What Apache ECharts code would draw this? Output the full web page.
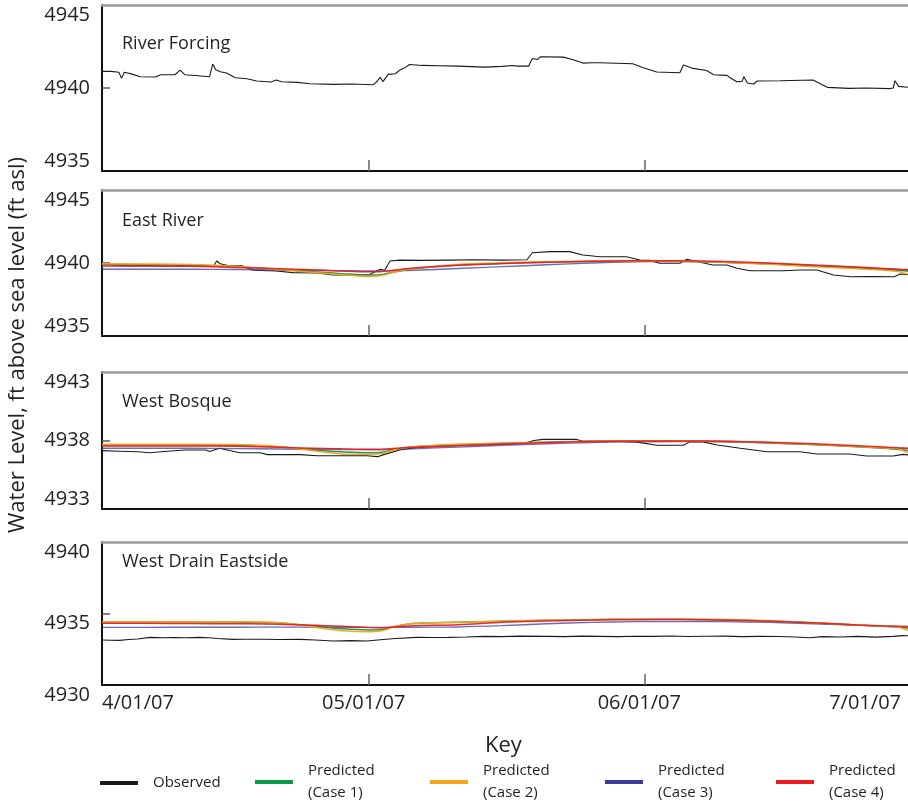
<!DOCTYPE html>
<html><head><meta charset="utf-8">
<script src="https://cdn.jsdelivr.net/npm/echarts@6/dist/echarts.min.js"></script>
<style>html,body{margin:0;padding:0;background:#fff}#c{width:908px;height:807px}</style>
</head><body><div id="c"></div>
<script>
// ---------- DATA ----------
// x values are days since 4/01/07
const xTickDays = [0, 30, 61, 91];
const xTickLabels = ['4/01/07', '05/01/07', '06/01/07', '7/01/07'];

const seriesNames = ['Observed', 'Predicted\n(Case 1)', 'Predicted\n(Case 2)', 'Predicted\n(Case 3)', 'Predicted\n(Case 4)'];
const panelTitles = ['River Forcing', 'East River', 'West Bosque', 'West Drain Eastside'];
const yTicks1 = [4935, 4940, 4945];
const yTicks2 = [4935, 4940, 4945];
const yTicks3 = [4933, 4938, 4943];
const yTicks4 = [4930, 4935, 4940];

// Panel 1: River Forcing (observed only)
const riverDays = [0,1.0,1.9,2.2,2.5,3.3,4.3,6.0,6.6,8.2,8.8,9.3,10.5,12.1,12.45,12.8,13.3,14.0,15.0,16.3,17.4,19.0,19.6,20.2,22.0,23.4,26,28,30.5,30.8,31.3,31.6,32.2,33.0,33.5,34.0,34.6,36,38,40,43,45,46.2,46.4,46.7,48.0,48.4,49.0,49.3,51.9,53.0,54.1,55.2,56,59.7,60.9,62.4,65.0,65.4,66.5,68.0,68.8,70.3,70.7,71.4,72.0,72.2,72.6,73.3,73.7,76.3,76.5,80,81.0,81.6,84,86,88.6,89.0,89.2,89.6,90.7,91];
const riverObs = [4941.0,4941.0,4940.95,4940.58,4940.95,4940.85,4940.68,4940.66,4940.8,4940.8,4941.08,4940.8,4940.75,4940.68,4941.44,4941.1,4940.98,4940.9,4940.62,4940.56,4940.42,4940.36,4940.48,4940.38,4940.34,4940.26,4940.22,4940.24,4940.2,4940.32,4940.64,4940.38,4940.82,4940.86,4941.08,4941.2,4941.42,4941.36,4941.34,4941.32,4941.26,4941.3,4941.36,4941.46,4941.32,4941.32,4941.78,4941.72,4941.88,4941.86,4941.7,4941.5,4941.52,4941.52,4941.46,4941.22,4940.96,4940.92,4941.38,4941.18,4941.05,4940.8,4940.76,4940.6,4940.38,4940.4,4940.68,4940.3,4940.24,4940.42,4940.44,4940.5,4940.48,4940.2,4940.04,4939.98,4940.0,4939.96,4940.0,4940.44,4940.1,4940.04,4940.04];

// Shared day grid for predicted curves
const predDays = [0,5,10,15,20,25,27,30,31.5,33,35,40,45,50,55,60,65,70,75,80,85,88,89.5,91];

// Panel 2: East River
const eastDays = [0,1.5,3,5,7,9,11,12.6,12.9,13.3,14.4,15.8,17,19.6,21.5,24.2,26,30.0,31.3,31.8,32.4,33.5,36,39,42,45,47.8,48.4,50.4,52.6,54.1,56,59,60.5,61.6,62.7,65,65.8,66.9,68.7,70.3,71.4,72.9,76.6,78.5,80.4,82.3,84.2,86.5,89.1,89.8,90.7];
const eastObs = [4939.93,4939.85,4939.8,4939.84,4939.78,4939.82,4939.8,4939.85,4940.14,4939.95,4939.8,4939.8,4939.5,4939.45,4939.34,4939.32,4939.18,4939.18,4939.57,4939.5,4940.14,4940.2,4940.18,4940.2,4940.22,4940.2,4940.22,4940.7,4940.78,4940.78,4940.55,4940.43,4940.43,4940.2,4940.18,4939.98,4939.98,4940.25,4940.1,4939.86,4939.86,4939.64,4939.47,4939.47,4939.52,4939.52,4939.18,4939.06,4939.08,4939.06,4939.25,4939.2];
const eastCase1 = [4939.90,4939.88,4939.85,4939.75,4939.55,4939.35,4939.27,4939.18,4939.22,4939.40,4939.60,4939.85,4939.97,4940.05,4940.10,4940.12,4940.12,4940.05,4939.95,4939.80,4939.65,4939.55,4939.50,4939.42];
const eastCase2 = [4939.95,4939.93,4939.90,4939.78,4939.55,4939.30,4939.20,4939.08,4939.15,4939.40,4939.62,4939.90,4940.00,4940.08,4940.12,4940.14,4940.12,4940.05,4939.92,4939.75,4939.60,4939.50,4939.42,4939.18];
const eastCase3 = [4939.57,4939.57,4939.57,4939.55,4939.52,4939.49,4939.47,4939.45,4939.45,4939.47,4939.50,4939.62,4939.75,4939.88,4940.00,4940.08,4940.10,4940.05,4939.95,4939.82,4939.68,4939.60,4939.55,4939.50];
const eastCase4 = [4939.80,4939.80,4939.78,4939.70,4939.60,4939.50,4939.45,4939.40,4939.42,4939.52,4939.65,4939.85,4939.97,4940.05,4940.12,4940.15,4940.15,4940.10,4940.00,4939.87,4939.72,4939.63,4939.58,4939.55];

// Panel 3: West Bosque
const boDays = [0,2,4,5.4,7,9.3,11.7,12.1,13.2,15.5,17.8,18.6,22.3,24.2,29.8,31,31.6,33.5,35.4,39,41,44,47.5,48.6,49.6,53.4,54.1,57.9,60.2,62.4,65.4,66.1,67.6,69.2,71.8,74.8,78.5,80.4,84.1,86,89,90.1,90.7];
const boObs = [4937.26,4937.22,4937.18,4937.11,4937.2,4937.31,4937.31,4937.2,4937.43,4937.11,4937.11,4936.97,4936.97,4936.89,4936.89,4936.82,4936.95,4937.31,4937.5,4937.6,4937.68,4937.7,4937.8,4938.0,4938.08,4938.08,4937.95,4937.95,4937.88,4937.65,4937.65,4937.9,4937.9,4937.67,4937.43,4937.18,4937.18,4937.01,4937.01,4936.87,4936.87,4936.99,4936.95];
const boCase1 = [4937.68,4937.68,4937.68,4937.65,4937.52,4937.25,4937.17,4937.11,4937.15,4937.35,4937.52,4937.70,4937.80,4937.88,4937.94,4937.97,4937.97,4937.93,4937.83,4937.70,4937.55,4937.43,4937.35,4937.25];
const boCase2 = [4937.72,4937.72,4937.72,4937.70,4937.55,4937.15,4937.02,4936.99,4937.05,4937.35,4937.55,4937.72,4937.80,4937.88,4937.95,4937.98,4937.98,4937.95,4937.85,4937.72,4937.55,4937.45,4937.40,4936.97];
const boCase3 = [4937.43,4937.43,4937.43,4937.41,4937.38,4937.35,4937.34,4937.33,4937.33,4937.36,4937.40,4937.52,4937.65,4937.76,4937.85,4937.90,4937.92,4937.90,4937.82,4937.70,4937.55,4937.47,4937.43,4937.40];
const boCase4 = [4937.60,4937.60,4937.60,4937.58,4937.50,4937.42,4937.39,4937.36,4937.37,4937.43,4937.50,4937.62,4937.75,4937.85,4937.92,4937.96,4937.97,4937.95,4937.87,4937.76,4937.62,4937.52,4937.47,4937.43];

// Panel 4: West Drain Eastside
const wdDays = [0,1,2,3,4,5.4,7,8,9.5,11,12,13,14.7,16,18,20,22.3,24,26,28,29.8,31.3,33,35.4,37,39,41,43,45,47,50,52,54,56,58,60,62,64,66,68,70,72,74,76,78,79.6,81,83,85,87,89,90,91];
const wdObs = [4933.15,4933.13,4933.12,4933.18,4933.22,4933.33,4933.3,4933.32,4933.3,4933.33,4933.3,4933.25,4933.19,4933.2,4933.2,4933.18,4933.19,4933.15,4933.08,4933.1,4933.08,4933.16,4933.25,4933.33,4933.32,4933.33,4933.36,4933.4,4933.38,4933.42,4933.4,4933.38,4933.42,4933.4,4933.38,4933.41,4933.4,4933.43,4933.39,4933.41,4933.42,4933.38,4933.4,4933.39,4933.36,4933.3,4933.38,4933.36,4933.4,4933.35,4933.4,4933.45,4933.44];
const wdCase1 = [4934.43,4934.43,4934.42,4934.40,4934.33,4934.05,4933.93,4933.85,4933.88,4934.10,4934.30,4934.38,4934.45,4934.52,4934.57,4934.60,4934.59,4934.55,4934.47,4934.33,4934.20,4934.10,4934.05,4933.95];
const wdCase2 = [4934.43,4934.43,4934.43,4934.42,4934.35,4933.95,4933.80,4933.73,4933.80,4934.10,4934.30,4934.38,4934.45,4934.52,4934.57,4934.60,4934.60,4934.58,4934.50,4934.35,4934.20,4934.10,4934.05,4933.73];
const wdCase3 = [4934.03,4934.03,4934.04,4934.04,4934.05,4934.04,4934.04,4934.03,4934.03,4934.03,4934.04,4934.06,4934.15,4934.28,4934.38,4934.43,4934.45,4934.43,4934.38,4934.28,4934.18,4934.12,4934.10,4934.08];
const wdCase4 = [4934.31,4934.31,4934.30,4934.28,4934.25,4934.15,4934.10,4934.02,4934.00,4934.08,4934.15,4934.22,4934.38,4934.48,4934.54,4934.57,4934.58,4934.55,4934.47,4934.35,4934.20,4934.13,4934.10,4934.08];

// ---------- STYLE / LAYOUT ----------
const FONT = '"Open Sans", "Noto Sans", sans-serif';
const TXT = '#231f20';
const colors = ['#1a1a1a', '#0a9a4a', '#f7a21b', '#3a3d9c', '#ed1c24'];
const widths = [1.1, 1.5, 1.5, 1.4, 1.5];

const panels = [
  {top: 5,   height: 166, ticks: yTicks1, va: ['bottom', 'middle', 'top'], obsDays: riverDays, obs: riverObs, preds: null},
  {top: 190, height: 146, ticks: yTicks2, va: ['bottom', 'middle', 'top'], obsDays: eastDays, obs: eastObs, preds: [eastCase1, eastCase2, eastCase3, eastCase4]},
  {top: 372, height: 137, ticks: yTicks3, va: ['bottom', 'middle', 'top'], obsDays: boDays, obs: boObs, preds: [boCase1, boCase2, boCase3, boCase4]},
  {top: 542, height: 143, ticks: yTicks4, va: ['top', 'top', 'top'], obsDays: wdDays, obs: wdObs, preds: [wdCase1, wdCase2, wdCase3, wdCase4]}
];

function zip(xs, ys) { const n = Math.min(xs.length, ys.length); const out = []; for (let i = 0; i < n; i++) out.push([xs[i], ys[i]]); return out; }

const grid = [], xAxis = [], yAxis = [], series = [], title = [];
const predOrder = [3, 1, 2, 4]; // draw order: case3, case1, case2, case4 (red on top)

panels.forEach((p, i) => {
  grid.push({left: 102, top: p.top, width: 809, height: p.height, outerBoundsMode: 'none', containLabel: false});
  const last = i === panels.length - 1;
  xAxis.push({
    gridIndex: i, type: 'value', min: xTickDays[0], max: xTickDays[xTickDays.length - 1],
    axisLine: {show: true, onZero: false, lineStyle: {color: '#111', width: 2}},
    axisTick: {show: true, inside: true, length: 11, customValues: [xTickDays[1], xTickDays[2]], lineStyle: {color: '#666', width: 1.5}},
    axisLabel: last ? {
      show: true, customValues: xTickDays, margin: 8, fontSize: 20, fontFamily: FONT, color: TXT,
      padding: [0, 10, 0, 0], alignMinLabel: 'left', alignMaxLabel: 'right',
      formatter: v => { const k = xTickDays.indexOf(v); return k >= 0 ? xTickLabels[k] : ''; }
    } : {show: false},
    splitLine: {show: false}
  });
  xAxis.push({
    gridIndex: i, type: 'value', position: 'top', min: xTickDays[0], max: xTickDays[xTickDays.length - 1],
    axisLine: {show: true, onZero: false, lineStyle: {color: '#9a9a9a', width: 2.5}},
    axisTick: {show: false}, axisLabel: {show: false}, splitLine: {show: false}
  });
  yAxis.push({
    gridIndex: i, type: 'value', min: p.ticks[0], max: p.ticks[2],
    axisLine: {show: true, onZero: false, lineStyle: {color: '#111', width: 2}},
    axisTick: {show: true, inside: true, length: 8, customValues: [p.ticks[1]], lineStyle: {color: '#555', width: 1.5}},
    axisLabel: {
      show: true, customValues: p.ticks, margin: 12, fontSize: 20, fontFamily: FONT, color: TXT,
      verticalAlign: p.va[1], verticalAlignMinLabel: p.va[0], verticalAlignMaxLabel: p.va[2],
      formatter: v => String(v)
    },
    splitLine: {show: false}
  });
  series.push({
    name: seriesNames[0], type: 'line', xAxisIndex: 2 * i, yAxisIndex: i, data: zip(p.obsDays, p.obs),
    showSymbol: false, symbol: 'none', lineStyle: {color: colors[0], width: widths[0]}, itemStyle: {color: colors[0]}, z: 2
  });
  if (p.preds) {
    predOrder.forEach((c, k) => {
      series.push({
        name: seriesNames[c], type: 'line', xAxisIndex: 2 * i, yAxisIndex: i, data: zip(predDays, p.preds[c - 1]),
        showSymbol: false, symbol: 'none', smooth: 0.3,
        lineStyle: {color: colors[c], width: widths[c], opacity: c === 3 ? 0.75 : 0.95}, itemStyle: {color: colors[c]}, z: 3 + k
      });
    });
  }
});

const titleTops = [30, 207, 388, 548];
panelTitles.forEach((t, i) => {
  title.push({text: t, left: 117, top: titleTops[i], textStyle: {fontSize: 18, fontWeight: 'normal', fontFamily: FONT, color: TXT}});
});
title.push({text: 'Key', left: 480, top: 730, textStyle: {fontSize: 22, fontWeight: 'normal', fontFamily: FONT, color: TXT}});

const legendLefts = [100, 255, 430, 605, 776];
const legendTops = [772, 760, 760, 760, 760];
const legend = seriesNames.map((n, k) => ({
  data: [n], left: legendLefts[k], top: legendTops[k], icon: 'rect', itemWidth: 38, itemHeight: 4,
  selectedMode: false, padding: 0,
  textStyle: {fontSize: 15, fontFamily: FONT, color: TXT, lineHeight: 22, padding: [0, 0, 0, 10]}
}));

const chart = echarts.init(document.getElementById('c'), null, {renderer: 'canvas'});
chart.setOption({
  animation: false,
  backgroundColor: '#fff',
  grid, xAxis, yAxis, series, title, legend,
  graphic: [{
    type: 'text', x: 18, y: 345, rotation: Math.PI / 2,
    style: {text: 'Water Level, ft above sea level (ft asl)', fontSize: 22, fontFamily: FONT, fill: TXT, align: 'center', verticalAlign: 'middle'}
  }]
});
</script></body></html>
